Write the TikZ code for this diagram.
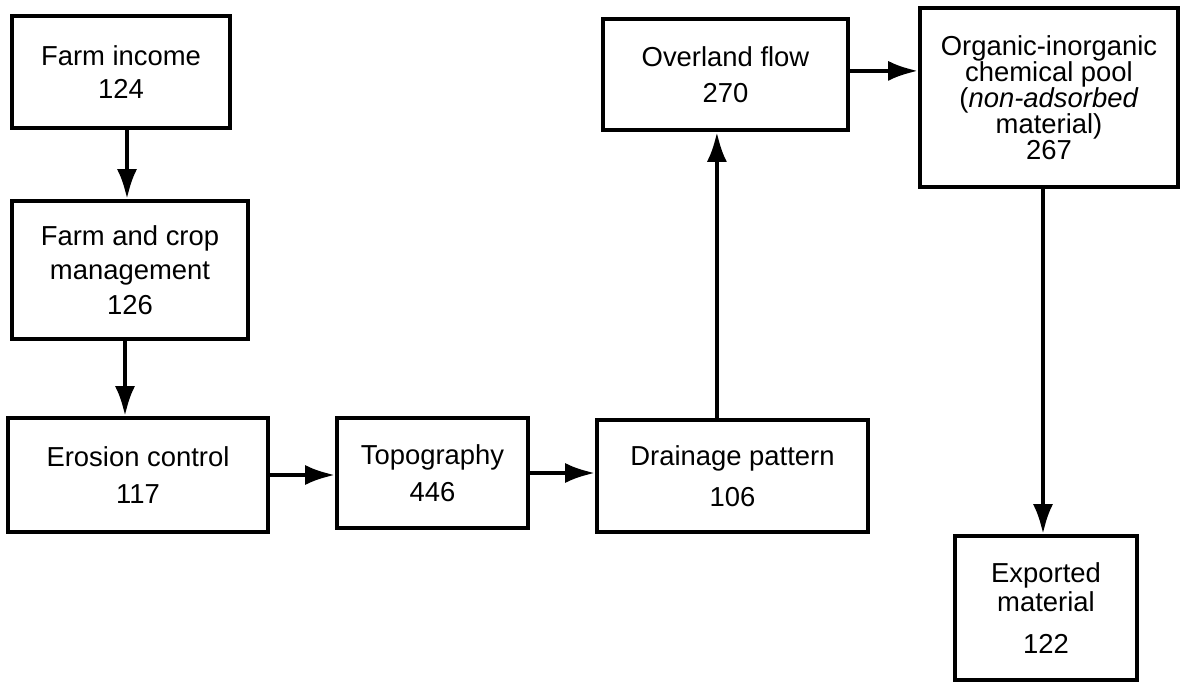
\documentclass[tikz,border=0pt]{standalone}
\usepackage{fontspec}
\setmainfont{Liberation Sans}
\usepackage{xcolor}
\usepackage{tikz}
\usetikzlibrary{arrows.meta}
\colorlet{boxline}{black}
\colorlet{flowline}{black}
\tikzset{
  box/.style={draw=boxline,line width=2.6pt,inner sep=0pt,align=center,
    font=\fontsize{19.5}{26}\selectfont},
  boxsize/.style 2 args={minimum width=#1*0.025cm,minimum height=#2*0.025cm},
  flow/.style={draw=flowline,line width=3pt,-{Latex[length=0.75cm,width=0.5cm]}},
}

\begin{document}
\begin{tikzpicture}[x=0.025cm,y=-0.025cm]
\useasboundingbox (0,0) rectangle (1184,682);
% ---- left column: income, management, erosion ----
\node[box,boxsize={218}{112},font=\fontsize{19.5}{24}\selectfont] (income) at (121,72) {Farm income\\124};
\node[box,boxsize={236}{138},font=\fontsize{19.5}{24.5}\selectfont] (mgmt) at (130,270) {Farm and crop\\management\\126};
\node[box,boxsize={260}{114}] (erosion) at (138,475) {Erosion control\\117};
% ---- bottom row ----
\node[box,boxsize={191}{110}] (topo) at (432.5,473) {Topography\\446};
\node[box,boxsize={271}{112},font=\fontsize{19.5}{29}\selectfont] (drainage) at (732.5,476) {Drainage pattern\\106};
% ---- top row and exit ----
\node[box,boxsize={245}{111}] (overland) at (725.5,74.5) {Overland flow\\270};
\node[box,boxsize={258}{179},font=\fontsize{19.5}{18.4}\selectfont] (pool) at (1049,97.5)
  {Organic-inorganic\\chemical pool\\(\textit{non-adsorbed}\\material)\\267};
\node[box,boxsize={182}{144},font=\fontsize{19.5}{21}\selectfont] (exported) at (1046,608) {Exported\\material\\[9pt]122};
% ---- flows ----
\draw[flow] ([xshift=0.15cm]income.south) -- ([xshift=0.15cm]income.south |- mgmt.north);
\draw[flow] ([xshift=-0.125cm]mgmt.south) -- ([xshift=-0.125cm]mgmt.south |- erosion.north);
\draw[flow] (erosion.east) -- (erosion.east -| topo.west);
\draw[flow] (topo.east) -- (topo.east -| drainage.west);
\draw[flow] ([xshift=-0.39cm]drainage.north) -- ([xshift=-0.39cm]drainage.north |- overland.south);
\draw[flow] ([yshift=0.09cm]overland.east) -- ([yshift=0.09cm]overland.east -| pool.west);
\draw[flow] ([xshift=-0.15cm]pool.south) -- ([xshift=-0.15cm]pool.south |- exported.north);
\end{tikzpicture}
\end{document}
